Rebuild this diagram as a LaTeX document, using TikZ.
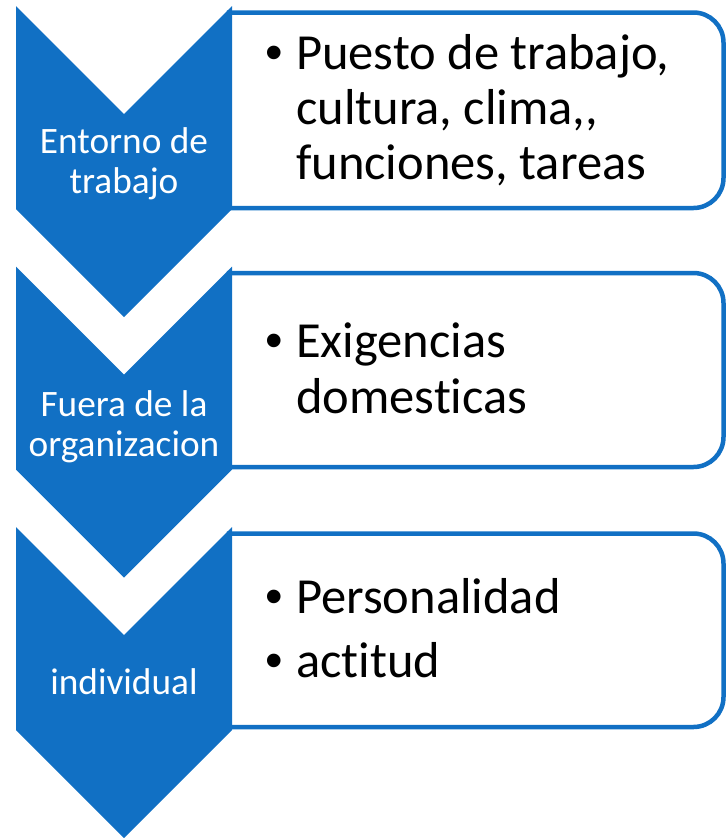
\documentclass[tikz,border=0pt]{standalone}
\usepackage{fontspec}
\setmainfont{Carlito}[Ligatures={NoCommon}]
\newfontfamily\bulletfont{Liberation Sans}
\definecolor{chevblue}{RGB}{17,112,196}
\tikzset{
  chev/.style={fill=chevblue, draw=none},
  listbox/.style={draw=chevblue, line width=4.5pt, fill=white},
  chevtext/.style={text=white, inner sep=0pt, anchor=base, font=\fontsize{37.3}{40.5}\selectfont},
  bul/.style={inner sep=0pt, anchor=base, font=\bulletfont\fontsize{50}{55}\selectfont},
  itemtext/.style={inner sep=0pt, anchor=base west, font=\fontsize{50.5}{55}\selectfont}
}
\newcommand{\chevshape}[1]{%
  \fill[chev] (16,#1) -- (124,#1+108) -- (232,#1) -- (232,#1+203) -- (124,#1+311) -- (16,#1+203) -- cycle;}
\newcommand{\boxshape}[2]{%
  \draw[listbox] (229,#2) -- (229,#1) -- (693.5,#1) arc[start angle=-90, end angle=0, radius=30]
    -- (723.5,#2-30) arc[start angle=0, end angle=90, radius=30] -- cycle;}
\begin{document}
\begin{tikzpicture}[x=1pt,y=-1pt]
\useasboundingbox (0,0) rectangle (727,838);
% list boxes
\boxshape{12.5}{208}
\boxshape{273}{467}
\boxshape{533.5}{727}
% chevrons
\chevshape{6}
\chevshape{266.5}
\chevshape{527}
% chevron labels
\node[chevtext] (c1) at (124,153) {\begin{tabular}[t]{@{}c@{}}Entorno de\\trabajo\end{tabular}};
\node[chevtext] (c2) at (124,416) {\begin{tabular}[t]{@{}c@{}}Fuera de la\\organizacion\end{tabular}};
\node[chevtext] (c3) at (124,694) {individual};
% box 1
\node[bul] (b1) at (274,69) {•};
\node[itemtext] (t1) at (296,69) {\parbox[t]{425pt}{\fontsize{50.5}{55}\selectfont Puesto de trabajo,\\cultura, clima,{},\\funciones, tareas}};
% box 2
\node[bul] (b2) at (274,357) {•};
\node[itemtext] (t2) at (296,357) {\parbox[t]{425pt}{\fontsize{50.5}{56}\selectfont Exigencias\\domesticas}};
% box 3
\node[bul] (b3) at (274,613) {•};
\node[itemtext] (t3) at (296,613) {Personalidad};
\node[bul] (b4) at (274,677) {•};
\node[itemtext] (t4) at (296,677) {actitud};
\end{tikzpicture}
\end{document}
